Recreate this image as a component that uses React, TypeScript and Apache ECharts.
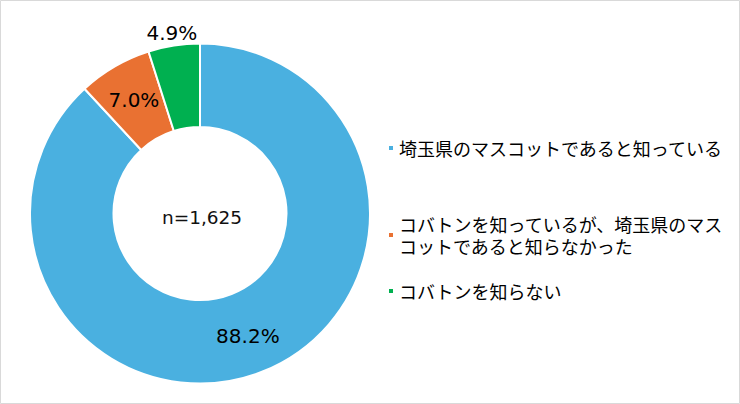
import React, { useEffect, useRef } from 'react';
import * as echarts from 'echarts';

const categories = [
    '埼玉県のマスコットであると知っている',
    'コバトンを知っているが、埼玉県のマスコットであると知らなかった',
    'コバトンを知らない',
];
const legendLines = [
    '埼玉県のマスコットであると知っている',
    'コバトンを知っているが、埼玉県のマス\nコットであると知らなかった',
    'コバトンを知らない',
];
const values = [88.2, 7.0, 4.9];
const colors = ['#4AB0E0', '#E97132', '#00B050'];
const sampleLabel = 'n=1,625';

const JP_FONT = '"Noto Sans CJK JP", "Noto Sans", sans-serif';
const NUM_FONT = '"DejaVu Sans", "Noto Sans", sans-serif';

const App: React.FC = () => {
    const chartRef = useRef<HTMLDivElement>(null);

    useEffect(() => {
        if (chartRef.current) {
            const chart = echarts.init(chartRef.current, undefined, { renderer: 'svg' });

            // one legend per item so that each can sit where the reference has it
            const legendTops = [137, 202, 280];
            const legends = categories.map((name, i) => ({
                orient: 'vertical',
                left: 387,
                top: legendTops[i],
                padding: 0,
                icon: 'rect',
                itemWidth: 6,
                itemHeight: 6,
                selectedMode: false,
                formatter: () => legendLines[i],
                data: [
                    {
                        name,
                        textStyle: i === 1 ? { padding: [22, 0, 0, 0] } : {},
                    },
                ],
                textStyle: {
                    fontFamily: JP_FONT,
                    fontSize: 18,
                    lineHeight: 22,
                    color: '#000',
                },
            }));

            const option = {
                animation: false,
                color: colors,
                legend: legends,
                graphic: [
                    {
                        type: 'rect',
                        shape: { x: 0.5, y: 0.5, width: 739, height: 403 },
                        style: { fill: 'none', stroke: '#D9D9D9', lineWidth: 1 },
                        silent: true,
                    },
                    {
                        type: 'text',
                        x: 202,
                        y: 217,
                        style: {
                            text: sampleLabel,
                            fontFamily: NUM_FONT,
                            fontSize: 18.5,
                            fill: '#111',
                            align: 'center',
                            verticalAlign: 'middle',
                        },
                    },
                ],
                series: [
                    {
                        type: 'pie',
                        center: [200, 213.5],
                        radius: [86.5, 170],
                        startAngle: 90,
                        clockwise: true,
                        avoidLabelOverlap: false,
                        itemStyle: { borderColor: '#fff', borderWidth: 2 },
                        label: {
                            show: true,
                            position: 'inside',
                            formatter: (p: any) => p.value.toFixed(1) + '%',
                            fontFamily: NUM_FONT,
                            fontSize: 20,
                            color: '#000',
                        },
                        labelLine: { show: false },
                        emphasis: { disabled: true },
                        data: categories.map((name, i) => ({
                            name,
                            value: values[i],
                            label: i === 2 ? { offset: [-8, -51] } : {},
                        })),
                    },
                ],
            };

            chart.setOption(option);

            return () => {
                chart.dispose();
            };
        }
    }, []);

    return (
        <div
            ref={chartRef}
            style={{ position: 'absolute', left: 0, top: 0, width: '740px', height: '404px', background: '#fff' }}
        />
    );
};

export default App;
